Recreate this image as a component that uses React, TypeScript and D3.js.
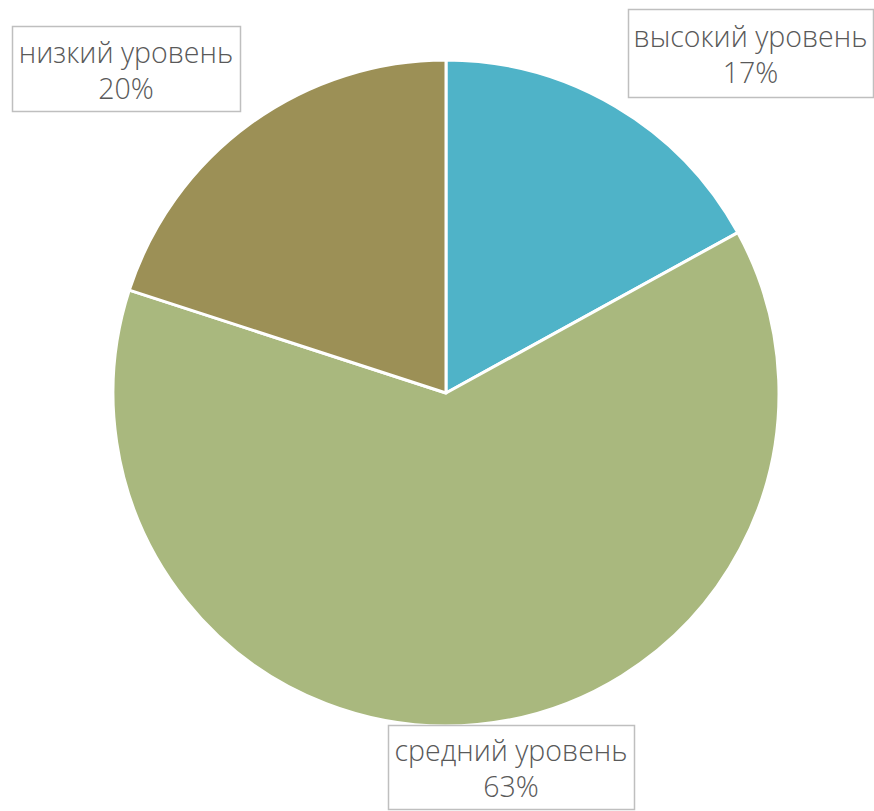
import React from "react";
import * as d3 from "d3";

const categories = ["высокий уровень", "средний уровень", "низкий уровень"];
const values = [17, 63, 20];
const colors = ["#4fb3c8", "#a9b87e", "#9c9056"];
const labelBoxes = [
  { x: 628, y: 9, w: 245, h: 88 },
  { x: 388, y: 725, w: 246, h: 84 },
  { x: 12, y: 26, w: 228, h: 85 },
];

export default function App() {
  const W = 874, H = 811;
  const cx = 446, cy = 393, r = 333;
  const pie = d3.pie<number>().sort(null).value((d) => d);
  const arcs = pie(values);
  const arc = d3.arc<d3.PieArcDatum<number>>().innerRadius(0).outerRadius(r);
  return (
    <svg width={W} height={H} style={{ position: "absolute", left: 0, top: 0 }}>
      <rect width={W} height={H} fill="#fff" />
      <g transform={`translate(${cx},${cy})`}>
        {arcs.map((a, i) => (
          <path key={i} d={arc(a) || ""} fill={colors[i]} stroke="#fff" strokeWidth={3} strokeLinejoin="round" />
        ))}
      </g>
      {labelBoxes.map((b, i) => (
        <g key={i}>
          <rect x={b.x + 0.5} y={b.y + 0.5} width={b.w} height={b.h} fill="#fff" stroke="#bfbfbf" strokeWidth={1.5} />
          <text x={b.x + b.w / 2} y={b.y + b.h / 2 - 6} textAnchor="middle" fontFamily="'Open Sans', sans-serif" fontWeight={300} fontSize={28.5} fill="#595959">
            {categories[i]}
          </text>
          <text x={b.x + b.w / 2} y={b.y + b.h / 2 + 30} textAnchor="middle" fontFamily="'Open Sans', sans-serif" fontWeight={300} fontSize={28.5} fill="#595959">
            {values[i]}%
          </text>
        </g>
      ))}
    </svg>
  );
}
